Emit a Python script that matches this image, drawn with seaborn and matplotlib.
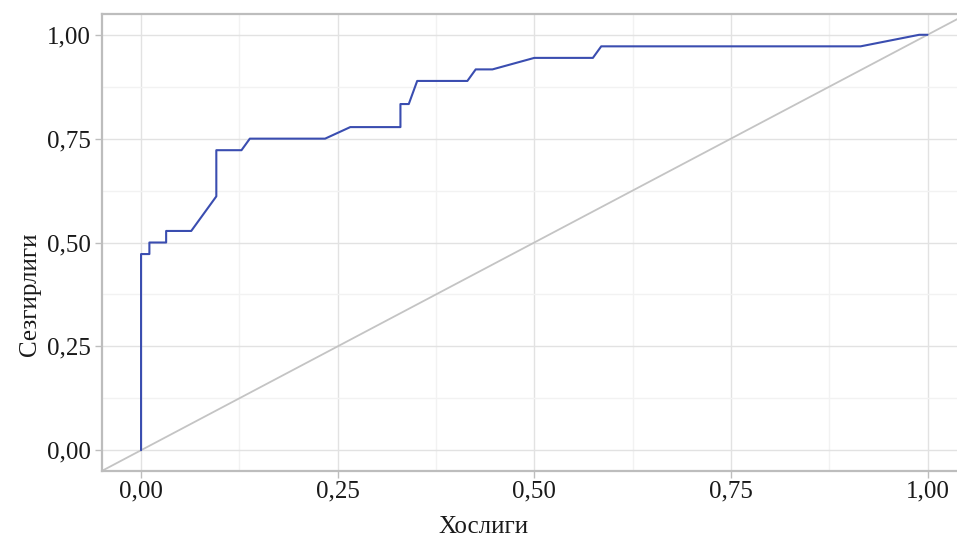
import matplotlib
matplotlib.use("Agg")
import matplotlib.pyplot as plt
from matplotlib.ticker import MultipleLocator, FuncFormatter
import seaborn as sns
import pandas as pd

# ROC curve points: false positive rate (1 - specificity) and sensitivity
fpr = [0.0, 0.0, 0.0106, 0.0106, 0.0319, 0.0319, 0.0638, 0.0957, 0.0957,
       0.1277, 0.1383, 0.2340, 0.2660, 0.3298, 0.3298, 0.3404, 0.3511,
       0.4149, 0.4255, 0.4468, 0.5000, 0.5745, 0.5851, 0.9149, 0.9894, 1.0]
tpr = [0.0, 0.4722, 0.4722, 0.5000, 0.5000, 0.5278, 0.5278, 0.6111, 0.7222,
       0.7222, 0.7500, 0.7500, 0.7778, 0.7778, 0.8333, 0.8333, 0.8889,
       0.8889, 0.9167, 0.9167, 0.9444, 0.9444, 0.9722, 0.9722, 1.0, 1.0]

tick_values = [0.0, 0.25, 0.5, 0.75, 1.0]
x_label = "Хослиги"
y_label = "Сезгирлиги"

sns.set_theme(style="whitegrid")
plt.rcParams["font.family"] = ["Liberation Serif", "DejaVu Serif"]

fig = plt.figure(figsize=(9.57, 5.37), dpi=100)
ax = fig.add_axes([0.1063, 0.1229, 0.904, 0.851])

df = pd.DataFrame({"fpr": fpr, "tpr": tpr})

# reference diagonal across the full plotting area
ax.plot([-0.05, 1.05], [-0.05, 1.05], color="#c4c4c4", lw=1.3, zorder=2)

sns.lineplot(data=df, x="fpr", y="tpr", sort=False, estimator=None,
             color="#3a4db0", lw=1.5, ax=ax, zorder=3)

ax.set_xlim(-0.05, 1.05)
ax.set_ylim(-0.05, 1.05)

fmt = FuncFormatter(lambda v, p: f"{v:.2f}".replace(".", ","))
ax.set_xticks(tick_values)
ax.set_yticks(tick_values)
ax.xaxis.set_major_formatter(fmt)
ax.yaxis.set_major_formatter(fmt)
ax.xaxis.set_minor_locator(MultipleLocator(0.125))
ax.yaxis.set_minor_locator(MultipleLocator(0.125))

ax.grid(which="major", color="#e2e2e2", lw=1.0)
ax.grid(which="minor", color="#f2f2f2", lw=1.0)
ax.set_axisbelow(True)

for side in ["left", "bottom", "top"]:
    ax.spines[side].set_visible(True)
    ax.spines[side].set_color("#bdbdbd")
    ax.spines[side].set_linewidth(1.6)
ax.spines["right"].set_visible(False)

ax.tick_params(axis="both", which="major", length=5, width=1, color="#bdbdbd",
               labelsize=18, labelcolor="#1a1a1a", bottom=True, left=True)
ax.tick_params(axis="y", which="major", pad=3)
ax.tick_params(axis="x", which="major", pad=1.5)
ax.tick_params(axis="both", which="minor", length=0)

ax.set_xlabel(x_label, fontsize=18, color="#1a1a1a", va="center")
ax.set_ylabel(y_label, fontsize=18, color="#1a1a1a", va="center")
ax.xaxis.set_label_coords(0.441, -0.1225)
ax.yaxis.set_label_coords(-0.0829, 0.387)

fig.savefig("out.png", dpi=100)
